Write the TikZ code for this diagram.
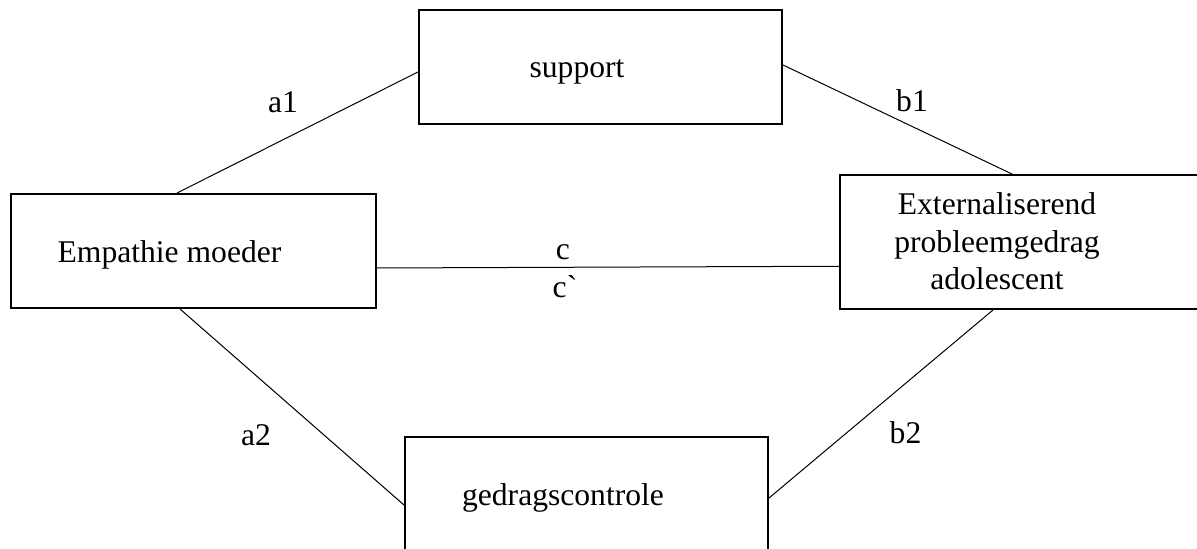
\documentclass[tikz,border=0pt]{standalone}
\usepackage{fontspec}
\setmainfont{Liberation Serif}
\usepackage{tikz}
\usetikzlibrary{calc}
\tikzstyle{Box} = [rectangle, draw=black, line width = 1pt, inner sep = 0pt]
\tikzstyle{Txt} = [inner sep = 0pt, font = \fontsize{15.8}{18.75}\selectfont]
\tikzstyle{Link} = [black, line width = 0.5pt]

\begin{document}
\begin{tikzpicture}[x=0.5pt, y=-0.5pt]

    \clip (0,0) rectangle (1197,549);
    \useasboundingbox (0,0) rectangle (1197,549);

    %%%%%%%%%%%%%%%%%%%%%%
    \node[Box, minimum width = 182.5pt, minimum height = 57pt] (emp) at (193.5,251) {};
    \node[Box, minimum width = 181.5pt, minimum height = 57pt] (sup) at (600.5,67) {};
    \node[Box, minimum width = 182.5pt, minimum height = 66.75pt] (ext) at (1022.5,242.25) {};
    \node[Box, minimum width = 181.5pt, minimum height = 57pt] (ged) at (586.5,494) {};

    \node[Txt] (empText) at (169.5,255) {Empathie moeder};
    \node[Txt] (supText) at (577,72) {support};
    \node[Txt, align=center] (extText) at (997,241.5) {Externaliserend\\probleemgedrag\\adolescent};
    \node[Txt] (gedText) at (563,497.5) {gedragscontrole};

    %%%%%%%%%%%%%%%%%%%%%%
    \draw[Link] ($(emp.north)+(-16.5,0)$) to ($(sup.west)+(0,5)$);
    \draw[Link] ($(sup.east)+(0,-2)$) to ($(ext.north)+(-9.5,0)$);
    \draw[Link] ($(emp.east)+(0,17)$) to ($(ext.west)+(0,24)$);
    \draw[Link] ($(emp.south)+(-13.5,0)$) to ($(ged.west)+(0,11)$);
    \draw[Link] ($(ext.south)+(-29.5,0)$) to ($(ged.east)+(0,4)$);

    \node[Txt] (a1) at (283,102.5) {a1};
    \node[Txt] (b1) at (912,101) {b1};
    \node[Txt] (c) at (563,252.5) {c};
    \node[Txt] (cprime) at (565,286.5) {c\textasciigrave};
    \node[Txt] (a2) at (256,435) {a2};
    \node[Txt] (b2) at (905.5,432.5) {b2};

\end{tikzpicture}
\end{document}
